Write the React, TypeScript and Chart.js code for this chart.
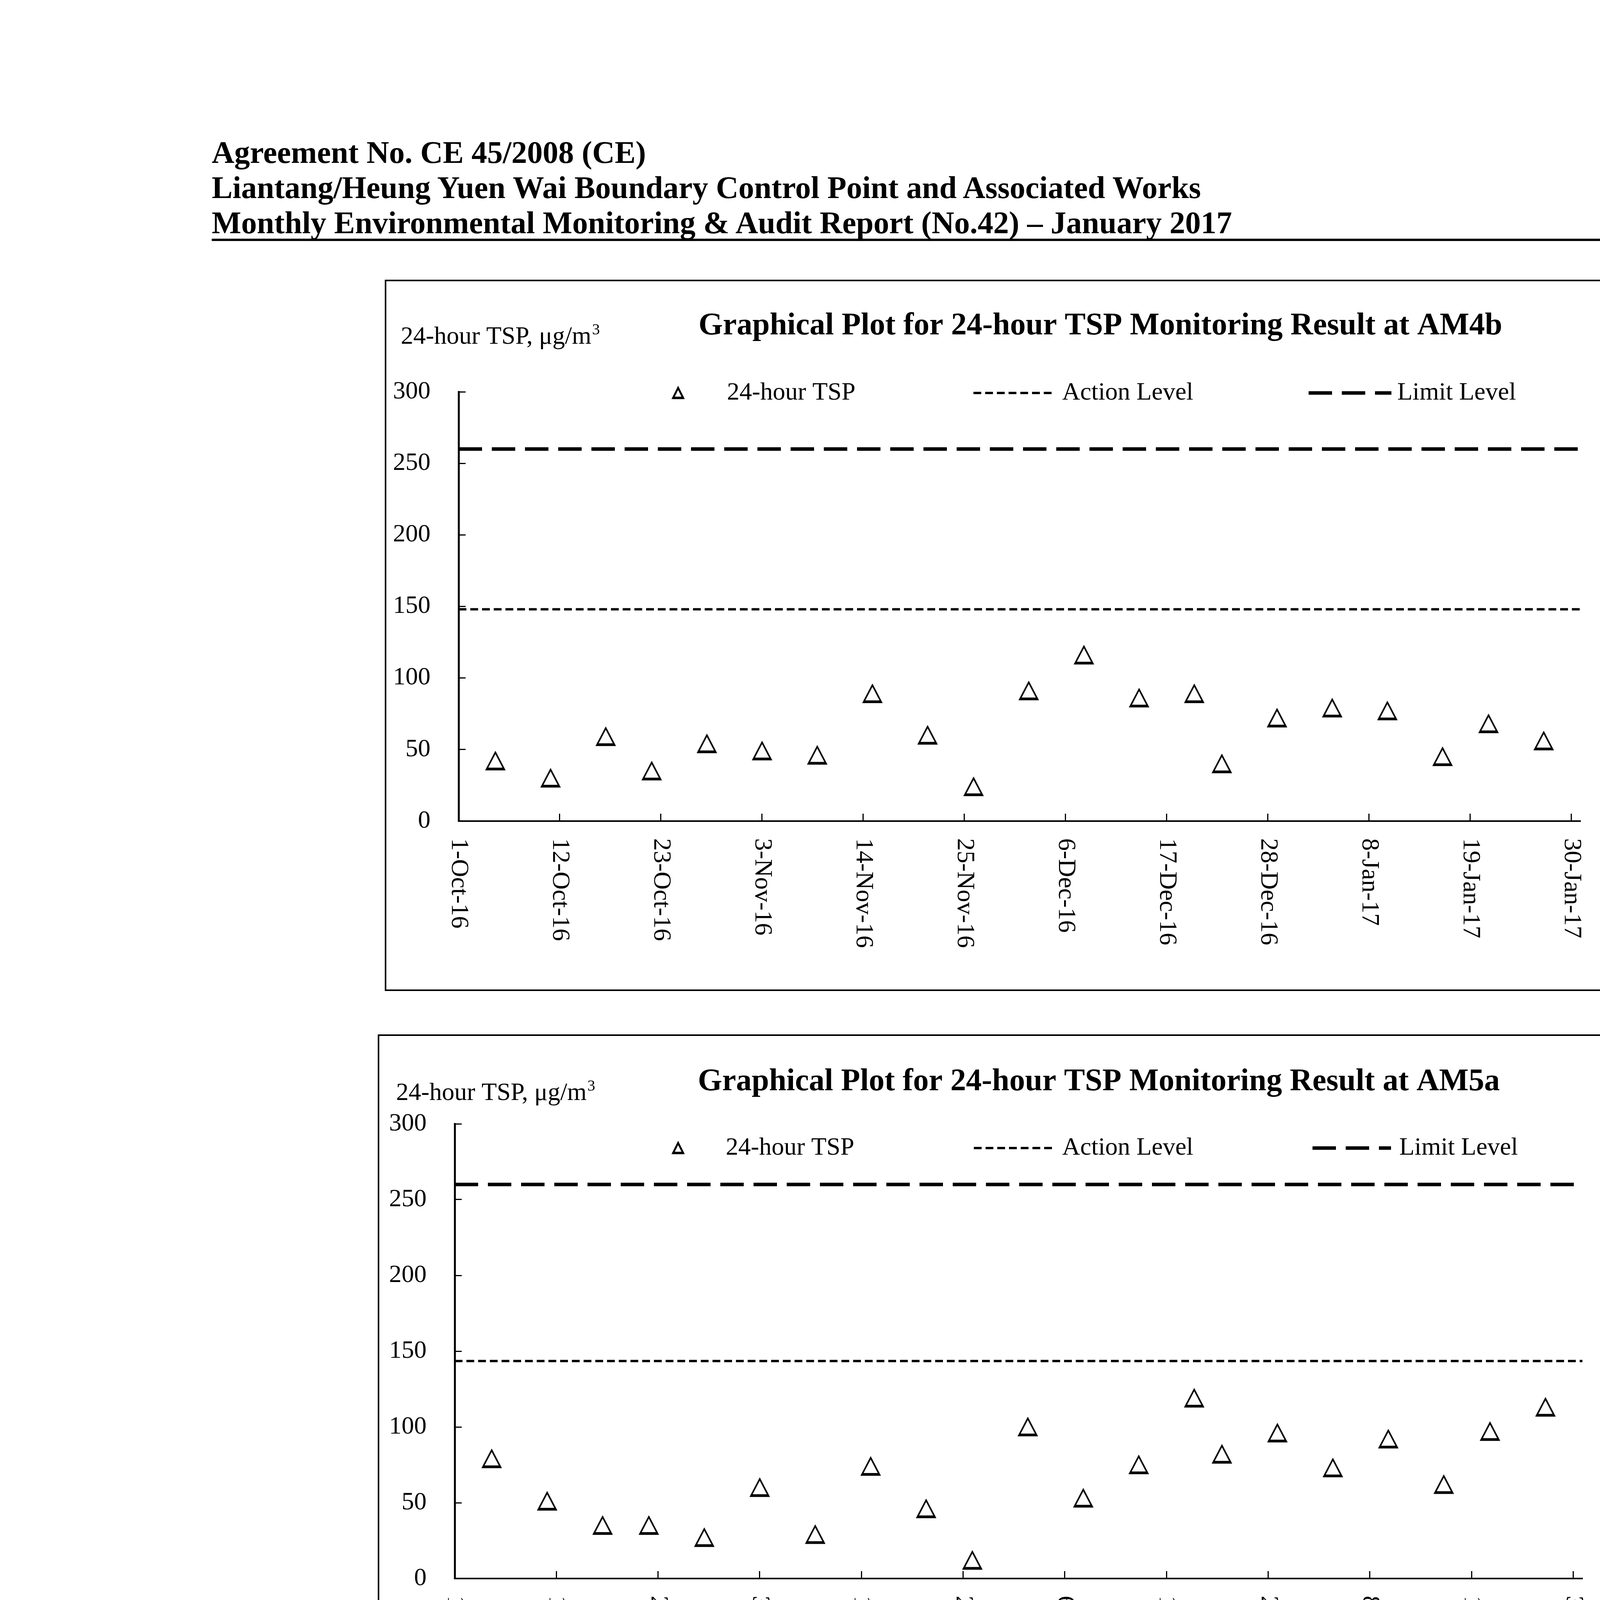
import React, { useEffect, useRef } from "react";
import { Chart, registerables } from "chart.js";

Chart.register(...registerables);

const FONT = "'Liberation Serif', 'Times New Roman', serif";

// ---------------- data ----------------
const SAMPLE_DATES = [
  "2016-10-05", "2016-10-11", "2016-10-17", "2016-10-22", "2016-10-28",
  "2016-11-03", "2016-11-09", "2016-11-15", "2016-11-21", "2016-11-26",
  "2016-12-02", "2016-12-08", "2016-12-14", "2016-12-20", "2016-12-23",
  "2016-12-29", "2017-01-04", "2017-01-10", "2017-01-16", "2017-01-21",
  "2017-01-27",
];
const TSP_AM4B = [42, 30, 59, 35, 54, 49, 46, 89, 60, 24, 91, 116, 86, 89, 40, 72, 79, 77, 45, 68, 56];
const TSP_AM5A = [79, 51, 35, 35, 27, 60, 29, 74, 46, 12, 100, 53, 75, 119, 82, 96, 73, 92, 62, 97, 113];
const TSP_AM6 = [138, 97, 60, 63, 96, 145, 61, 120, 88, 44, 136, 103, 142, 116, 73, 88, 72, 89, 78, 147, 67];
const SERIES = [TSP_AM4B, TSP_AM5A, TSP_AM6];
const STATIONS = ["AM4b", "AM5a", "AM6"];
const ACTION_LEVELS = [148, 143.5, 148];
const LIMIT_LEVELS = [260, 260, 260];

const TICK_DATES = [
  "2016-10-01", "2016-10-12", "2016-10-23", "2016-11-03", "2016-11-14", "2016-11-25",
  "2016-12-06", "2016-12-17", "2016-12-28", "2017-01-08", "2017-01-19", "2017-01-30",
];
const TICK_LABELS = [
  "1-Oct-16", "12-Oct-16", "23-Oct-16", "3-Nov-16", "14-Nov-16", "25-Nov-16",
  "6-Dec-16", "17-Dec-16", "28-Dec-16", "8-Jan-17", "19-Jan-17", "30-Jan-17",
];
const AXIS_START = "2016-10-01";
const AXIS_END = "2017-01-31";
const Y_TICKS = [0, 50, 100, 150, 200, 250, 300];

const SERIES_LABEL = "24-hour TSP";
const ACTION_LABEL = "Action Level";
const LIMIT_LABEL = "Limit Level";
const UNIT_LABEL = "24-hour TSP, \u03bcg/m";
const X_TITLE = "Date";

const HEADER_LINES = [
  "Agreement No. CE 45/2008 (CE)",
  "Liantang/Heung Yuen Wai Boundary Control Point and Associated Works",
  "Monthly Environmental Monitoring & Audit Report (No.42) \u2013 January 2017",
];
const FOOTER_TEXT = "Z:\\Jobs\\2013\\TCS00694\\600\\EM&A Report\\Monthly EM&A Report\\42nd (January 2017)\\R0846v2.docx";

// ---------------- layout (page pixels / canvas pixels) ----------------
const LAYOUTS = [
  {
    box: { x: 985, y: 716, w: 3258, h: 1821 },
    area: { left: 189, top: 287, bottom: 1386, rightPad: 197 },
    title: { cx: 1832, base: 140 },
    unit: { x: 41, base: 164 },
    legend: { cy: 290, tri: 751, triText: 876, actFrom: 1507, actTo: 1716, actText: 1734, limFrom: 2365, limTo: 2577, limText: 2592 },
    date: { x: 3111, base: 1469 },
  },
  {
    box: { x: 967, y: 2648, w: 3286, h: 1821 },
    area: { left: 197, top: 229, bottom: 1393, rightPad: 202 },
    title: { cx: 1846, base: 143 },
    unit: { x: 47, base: 168 },
    legend: { cy: 291, tri: 769, triText: 891, actFrom: 1526, actTo: 1731, actText: 1752, limFrom: 2393, limTo: 2594, limText: 2615 },
    date: { x: 3141, base: 1468 },
  },
  {
    box: { x: 941, y: 4591, w: 3331, h: 1818 },
    area: { left: 202, top: 237, bottom: 1390, rightPad: 201 },
    title: { cx: 1841, base: 143 },
    unit: { x: 54, base: 165 },
    legend: { cy: 292, tri: 787, triText: 910, actFrom: 1554, actTo: 1750, actText: 1778, limFrom: 2428, limTo: 2630, limText: 2652 },
    date: { x: 3187, base: 1465 },
  },
];

const ACTION_DASH = [20, 10];
const LIMIT_DASH = [60, 25];
const ACTION_WIDTH = 6;
const LIMIT_WIDTH = 9;

function dayOf(s: string): number {
  const [y, m, d] = s.split("-").map(Number);
  const [y0, m0, d0] = AXIS_START.split("-").map(Number);
  return (Date.UTC(y, m - 1, d) - Date.UTC(y0, m0 - 1, d0)) / 86400000;
}

function makeTriangle(w: number, h: number, lw: number, baseLw: number): HTMLCanvasElement {
  const pad = 8;
  const c = document.createElement("canvas");
  c.width = w + pad * 2;
  c.height = h + pad * 2;
  const g = c.getContext("2d")!;
  g.strokeStyle = "#000";
  g.lineWidth = lw;
  g.lineJoin = "miter";
  g.beginPath();
  g.moveTo(pad + w / 2, pad);
  g.lineTo(pad + w, pad + h);
  g.lineTo(pad, pad + h);
  g.closePath();
  g.stroke();
  g.lineWidth = baseLw;
  g.beginPath();
  g.moveTo(pad, pad + h - baseLw / 2 + lw / 2);
  g.lineTo(pad + w, pad + h - baseLw / 2 + lw / 2);
  g.stroke();
  return c;
}

function makeDecor(idx: number) {
  const L = LAYOUTS[idx];
  return {
    id: "decor" + idx,
    beforeDraw(chart: any) {
      const ctx = chart.ctx;
      ctx.save();
      ctx.fillStyle = "#fff";
      ctx.fillRect(0, 0, chart.width, chart.height);
      ctx.restore();
    },
    afterDraw(chart: any) {
      const ctx = chart.ctx;
      ctx.save();
      ctx.fillStyle = "#000";
      ctx.strokeStyle = "#000";

      // frame
      ctx.lineWidth = 4;
      ctx.setLineDash([]);
      ctx.strokeRect(2, 2, chart.width - 4, chart.height - 4);

      // title
      ctx.font = `bold 80px ${FONT}`;
      ctx.textAlign = "center";
      ctx.textBaseline = "alphabetic";
      ctx.fillText(`Graphical Plot for 24-hour TSP Monitoring Result at ${STATIONS[idx]}`, L.title.cx, L.title.base);

      // unit label
      ctx.font = `64px ${FONT}`;
      ctx.textAlign = "left";
      ctx.fillText(UNIT_LABEL, L.unit.x, L.unit.base);
      const uw = ctx.measureText(UNIT_LABEL).width;
      ctx.font = `40px ${FONT}`;
      ctx.fillText("3", L.unit.x + uw + 2, L.unit.base - 24);

      // legend
      const lg = L.legend;
      const tri = makeTriangle(26, 26, 5, 6);
      ctx.drawImage(tri, lg.tri - tri.width / 2, lg.cy - tri.height / 2);
      ctx.font = `64px ${FONT}`;
      ctx.textBaseline = "middle";
      ctx.fillText(SERIES_LABEL, lg.triText, lg.cy);
      ctx.fillText(ACTION_LABEL, lg.actText, lg.cy);
      ctx.fillText(LIMIT_LABEL, lg.limText, lg.cy);
      ctx.lineCap = "butt";
      ctx.lineWidth = ACTION_WIDTH;
      ctx.setLineDash(ACTION_DASH);
      ctx.beginPath();
      ctx.moveTo(lg.actFrom, lg.cy);
      ctx.lineTo(lg.actTo, lg.cy);
      ctx.stroke();
      ctx.lineWidth = LIMIT_WIDTH;
      ctx.setLineDash(LIMIT_DASH);
      ctx.beginPath();
      ctx.moveTo(lg.limFrom, lg.cy);
      ctx.lineTo(lg.limTo, lg.cy);
      ctx.stroke();
      ctx.setLineDash([]);

      // rotated date labels (reading top to bottom)
      const xs = chart.scales.x;
      const yb = chart.chartArea.bottom;
      ctx.font = `64px ${FONT}`;
      xs.ticks.forEach((t: any, k: number) => {
        const px = xs.getPixelForValue(t.value);
        ctx.save();
        ctx.translate(px, yb + 44);
        ctx.rotate(Math.PI / 2);
        ctx.textAlign = "left";
        ctx.textBaseline = "middle";
        ctx.fillText(TICK_LABELS[k] ?? "", 0, 0);
        ctx.restore();
      });

      // axis title
      ctx.textAlign = "left";
      ctx.textBaseline = "alphabetic";
      ctx.fillText(X_TITLE, L.date.x, L.date.base);
      ctx.restore();
    },
  };
}

function TspChart({ idx }: { idx: number }) {
  const ref = useRef<HTMLCanvasElement>(null);
  const L = LAYOUTS[idx];
  useEffect(() => {
    const values = SERIES[idx];
    const xMin = dayOf(AXIS_START);
    const xMax = dayOf(AXIS_END);
    const tri = makeTriangle(46, 44, 4, 7);
    const chart = new Chart(ref.current as HTMLCanvasElement, {
      type: "scatter",
      data: {
        datasets: [
          {
            label: SERIES_LABEL,
            data: SAMPLE_DATES.map((d, k) => ({ x: dayOf(d), y: values[k] })),
            pointStyle: tri as any,
            pointRadius: 22,
            pointHoverRadius: 22,
            showLine: false,
            borderColor: "#000",
            backgroundColor: "#000",
          },
          {
            label: ACTION_LABEL,
            data: [
              { x: xMin, y: ACTION_LEVELS[idx] },
              { x: xMax, y: ACTION_LEVELS[idx] },
            ],
            showLine: true,
            borderColor: "#000",
            borderWidth: ACTION_WIDTH,
            borderDash: ACTION_DASH,
            pointRadius: 0,
            pointHoverRadius: 0,
          },
          {
            label: LIMIT_LABEL,
            data: [
              { x: xMin, y: LIMIT_LEVELS[idx] },
              { x: xMax, y: LIMIT_LEVELS[idx] },
            ],
            showLine: true,
            borderColor: "#000",
            borderWidth: LIMIT_WIDTH,
            borderDash: LIMIT_DASH,
            pointRadius: 0,
            pointHoverRadius: 0,
          },
        ],
      },
      options: {
        animation: false,
        responsive: false,
        devicePixelRatio: 1,
        events: [],
        layout: { padding: { left: 0, top: L.area.top, right: L.area.rightPad, bottom: 0 } },
        plugins: {
          legend: { display: false },
          tooltip: { enabled: false },
          title: { display: false },
        },
        scales: {
          x: {
            type: "linear",
            min: xMin,
            max: xMax,
            afterBuildTicks: (s: any) => {
              s.ticks = TICK_DATES.map((d) => ({ value: dayOf(d) }));
            },
            afterFit: (s: any) => {
              s.height = L.box.h - L.area.bottom;
            },
            ticks: { display: false },
            grid: {
              display: true,
              drawOnChartArea: false,
              drawTicks: true,
              tickLength: -19,
              tickWidth: 3,
              tickColor: "#000",
              color: "#000",
            },
            border: { display: true, color: "#000", width: 4 },
          },
          y: {
            type: "linear",
            min: Y_TICKS[0],
            max: Y_TICKS[Y_TICKS.length - 1],
            afterBuildTicks: (s: any) => {
              s.ticks = Y_TICKS.map((v) => ({ value: v }));
            },
            afterFit: (s: any) => {
              s.width = L.area.left;
            },
            ticks: {
              color: "#000",
              font: { family: FONT, size: 64 },
              padding: 90,
            },
            grid: {
              display: true,
              drawOnChartArea: false,
              drawTicks: true,
              tickLength: -18,
              tickWidth: 3,
              tickColor: "#000",
              color: "#000",
            },
            border: { display: true, color: "#000", width: 5 },
          },
        },
      } as any,
      plugins: [makeDecor(idx)],
    });
    return () => chart.destroy();
  }, [idx]);
  return (
    <canvas
      ref={ref}
      width={L.box.w}
      height={L.box.h}
      style={{ position: "absolute", left: L.box.x, top: L.box.y, width: L.box.w, height: L.box.h }}
    />
  );
}

export default function App() {
  const headerStyle = (top: number): React.CSSProperties => ({
    position: "absolute",
    left: 542,
    top,
    fontFamily: FONT,
    fontWeight: "bold",
    fontSize: 80,
    lineHeight: "80px",
    whiteSpace: "nowrap",
    color: "#000",
  });
  return (
    <div style={{ position: "absolute", left: 0, top: 0, width: 4956, height: 7009, background: "#fff", overflow: "hidden" }}>
      <div style={headerStyle(350)}>{HEADER_LINES[0]}</div>
      <div style={headerStyle(440)}>{HEADER_LINES[1]}</div>
      <div style={headerStyle(530)}>{HEADER_LINES[2]}</div>
      <div style={{ position: "absolute", left: 542, top: 611, width: 4307, height: 6, background: "#000" }} />
      {LAYOUTS.map((_, i) => (
        <TspChart key={i} idx={i} />
      ))}
      <div style={{ position: "absolute", left: 648, top: 6647, width: 3943, height: 6, background: "#000" }} />
      <div
        style={{
          position: "absolute",
          left: 665,
          top: 6672,
          fontFamily: FONT,
          fontSize: 64,
          lineHeight: "64px",
          whiteSpace: "nowrap",
          color: "#000",
        }}
      >
        {FOOTER_TEXT}
      </div>
    </div>
  );
}
